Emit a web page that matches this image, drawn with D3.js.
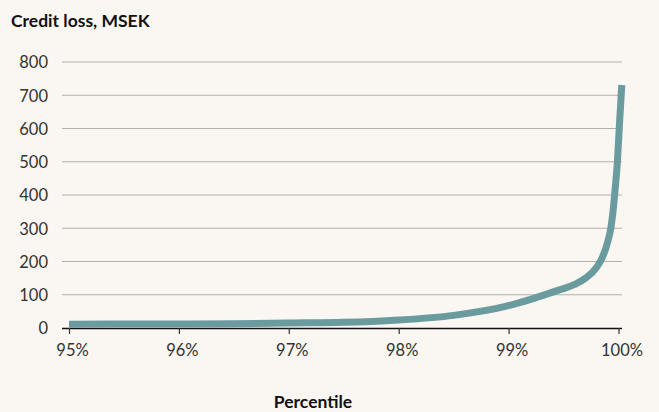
<!DOCTYPE html>
<html>
<head>
<meta charset="utf-8">
<style>
body { margin: 0; background: #faf6f2; }
svg { display: block; }
text { font-family: Lato, "Open Sans", sans-serif; fill: #222; }
.title, .xlabel { font-weight: 700; font-size: 17.5px; fill: #111; }
.tick text { font-size: 16.5px; fill: #333; }
.grid line { stroke: #b3afab; stroke-width: 1.2; }
</style>
</head>
<body>
<svg width="659" height="412"></svg>
<script src="https://d3js.org/d3.v7.min.js"></script>
<script>

// percentile (%) and credit loss (MSEK)
var percentile = [95, 95.5, 96, 96.5, 97, 97.5, 98, 98.5, 99, 99.2, 99.4, 99.6, 99.7, 99.8, 99.85, 99.9, 99.93, 99.95, 99.97, 99.99, 100.01, 100.03];
var creditLoss = [11, 12, 12, 13, 15, 17, 24, 38, 67, 86, 108, 131, 150, 182, 210, 257, 300, 350, 420, 500, 620, 731];

var yTicks = [0, 100, 200, 300, 400, 500, 600, 700, 800];
var xTicks = [95, 96, 97, 98, 99, 100];

var svg = d3.select("svg");

var x = d3.scaleLinear().domain([95, 100]).range([69, 618.5]);
var y = d3.scaleLinear().domain([0, 800]).range([328, 62]);

svg.append("text")
    .attr("class", "title")
    .attr("x", 11)
    .attr("y", 27)
    .text("Credit loss, MSEK");

// horizontal gridlines
svg.append("g")
    .attr("class", "grid")
  .selectAll("line")
  .data(yTicks.slice(1))
  .enter().append("line")
    .attr("x1", 62)
    .attr("x2", 622)
    .attr("y1", function(d) { return y(d); })
    .attr("y2", function(d) { return y(d); });

// y axis labels
var yAxis = svg.append("g")
    .attr("transform", "translate(48,0)")
    .call(d3.axisLeft(y).tickValues(yTicks).tickSize(0).tickPadding(0));
yAxis.select(".domain").remove();
yAxis.selectAll(".tick text").attr("dy", "0.36em");

// x axis
var xAxis = svg.append("g")
    .attr("transform", "translate(0,328)")
    .call(d3.axisBottom(x).tickValues(xTicks).tickSize(6).tickPadding(0)
      .tickFormat(function(d) { return d + "%"; }));
xAxis.select(".domain")
    .attr("d", "M62,0.5H622")
    .attr("stroke", "#111")
    .attr("stroke-width", 1.5);
xAxis.selectAll(".tick line").attr("stroke", "#333").attr("stroke-width", 1.2);
xAxis.selectAll(".tick text")
    .attr("dx", 3)
    .attr("y", 22)
    .attr("dy", "0.36em");

svg.append("text")
    .attr("class", "xlabel")
    .attr("x", 313)
    .attr("y", 408)
    .attr("text-anchor", "middle")
    .text("Percentile");

var line = d3.line()
    .x(function(d, i) { return x(percentile[i]); })
    .y(function(d) { return y(d); })
    .curve(d3.curveMonotoneX);

svg.append("path")
    .datum(creditLoss)
    .attr("fill", "none")
    .attr("stroke", "#6a9c9f")
    .attr("stroke-width", 7)
    .attr("d", line);

</script>
</body>
</html>
